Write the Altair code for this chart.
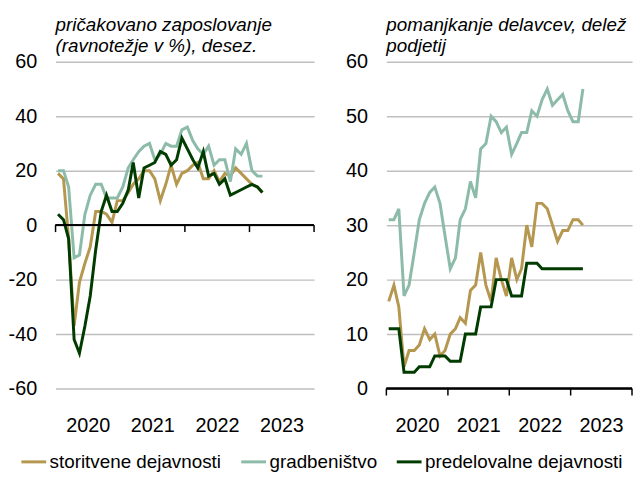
import altair as alt
import pandas as pd

FONT = "Liberation Sans, Arial"

series = ["storitvene dejavnosti", "gradbeništvo", "predelovalne dejavnosti"]
colors = ["#B5974F", "#8DBBA9", "#003B00"]

# monthly, Jan 2020 - Mar 2023
months = [d + pd.Timedelta(days=14) for d in pd.date_range("2020-01-01", periods=39, freq="MS")]

# left: pričakovano zaposlovanje (ravnotežje v %)
stor_zap = [19, 17, -5, -37, -21, -14, -8, 5, 5, 4, 1, 9, 9, 12, 15, 17, 20, 20, 17, 9,
            15, 22, 15, 19, 20, 22, 23, 17, 17, 20, 16, 19, 18, 21, 19, 17, 15, 14, 12]
grad_zap = [20, 20, 14, -12, -11, 4, 11, 15, 15, 10, 10, 10, 14, 21, 24, 27, 29, 30, 24, 26,
            30, 29, 29, 35, 36, 31, 28, 26, 29, 22, 24, 24, 16, 28, 26, 30, 20, 18, 18]
pred_zap = [4, 2, -5, -42, -47, -37, -26, -9, 5, 11, 5, 5, 8, 13, 23, 10, 21, 22, 23, 27,
            26, 22, 24, 32, 28, 24, 21, 27, 18, 19, 15, 17, 11, 12, 13, 14, 15, 14, 12]

# right: pomanjkanje delavcev, delež podjetij
stor_pom = [16, 19, 15, 4, 7, 7, 8, 11, 9, 10, 6, 7, 10, 11, 13, 12, 18, 19, 25, 19,
            16, 24, 20, 17, 24, 20, 22, 30, 26, 34, 34, 33, 30, 27, 29, 29, 31, 31, 30]
grad_pom = [31, 31, 33, 17, 19, 25, 31, 34, 36, 37, 34, 28, 22, 24, 31, 33, 38, 35, 44, 45,
            50, 49, 47, 48, 43, 45, 47, 47, 51, 50, 53, 55, 52, 53, 54, 51, 49, 49, 55]
pred_pom = [11, 11, 11, 3, 3, 3, 4, 4, 4, 6, 6, 6, 5, 5, 5, 10, 10, 10, 15, 15,
            15, 20, 20, 20, 17, 17, 17, 23, 23, 23, 22, 22, 22, 22, 22, 22, 22, 22, 22]

year_labels = [2020, 2021, 2022, 2023]
year_bounds = ["2020-01-01", "2021-01-01", "2022-01-01", "2023-01-01", "2024-01-01"]
left_ticks = [-60, -40, -20, 0, 20, 40, 60]
right_ticks = [0, 10, 20, 30, 40, 50, 60]


def long_df(vals_list):
    rows = []
    for k, (name, vals) in enumerate(zip(series, vals_list)):
        for d, v in zip(months, vals):
            rows.append({"date": d, "value": v, "series": name, "k": k})
    return pd.DataFrame(rows)


df_left = long_df([stor_zap, grad_zap, pred_zap])
df_right = long_df([stor_pom, grad_pom, pred_pom])
df_bounds = pd.DataFrame({"date": pd.to_datetime(year_bounds)})

xscale = alt.Scale(domain=[alt.DateTime(year=2020, month=1, date=1),
                           alt.DateTime(year=2024, month=1, date=1)])
xaxis = alt.Axis(values=[alt.DateTime(year=y, month=7, date=1) for y in year_labels],
                 format="%Y", grid=False, ticks=False, domain=False, labelFlush=False,
                 labelPadding=27, title=None)

color = alt.Color("series:N",
                  scale=alt.Scale(domain=series, range=colors),
                  sort=series,
                  legend=alt.Legend(title=None, orient="none", direction="horizontal",
                                    legendX=-36, legendY=390,
                                    symbolType="stroke", symbolSize=625, symbolStrokeWidth=3,
                                    labelFontSize=19, labelFont=FONT, labelLimit=0,
                                    labelColor="black",
                                    columnPadding=13, labelOffset=2, padding=0))


def panel(df, domain, ticks, t1, t2, pw):
    yscale = alt.Scale(domain=domain, nice=False, zero=False)
    yaxis = alt.Axis(values=ticks, grid=True, gridColor="#BFBFBF", gridWidth=1.5,
                     domain=False, ticks=False, labelPadding=19, labelExpr="datum.value",
                     title=None)
    lines = alt.Chart(df).mark_line(strokeWidth=3).encode(
        x=alt.X("date:T", scale=xscale, axis=xaxis),
        y=alt.Y("value:Q", scale=yscale, axis=yaxis),
        color=color,
        detail="k:N",
    )
    zero = alt.Chart(df_bounds).mark_rule(color="black", strokeWidth=1.5).encode(
        y=alt.datum(0))
    tks = alt.Chart(df_bounds).mark_rule(color="black", strokeWidth=1.5, y2Offset=7).encode(
        x=alt.X("date:T"), y=alt.datum(0), y2=alt.datum(0))
    return alt.layer(lines, zero, tks).properties(
        width=pw, height=330,
        title=alt.TitleParams(t1, subtitle=t2, anchor="start", frame="group", font=FONT,
                              fontSize=19, fontStyle="italic", fontWeight="normal",
                              color="black", subtitleFont=FONT, subtitleFontSize=19,
                              subtitleFontStyle="italic", subtitleColor="black",
                              subtitlePadding=2, offset=-4),
    )


left = panel(df_left, [-60, 60], left_ticks,
             "pričakovano zaposlovanje", "(ravnotežje v %), desez.", 261)
right = panel(df_right, [0, 60], right_ticks,
              "pomanjkanje delavcev, delež", "podjetij", 248)

chart = alt.hconcat(left, right, spacing=30).properties(
    padding={"top": 6, "left": 0, "right": 0, "bottom": 0}
).configure_view(
    stroke=None
).configure_axis(
    labelFont=FONT, labelFontSize=20, labelColor="black"
)

chart.save("out.html", embed_options={"renderer": "svg", "actions": False})
